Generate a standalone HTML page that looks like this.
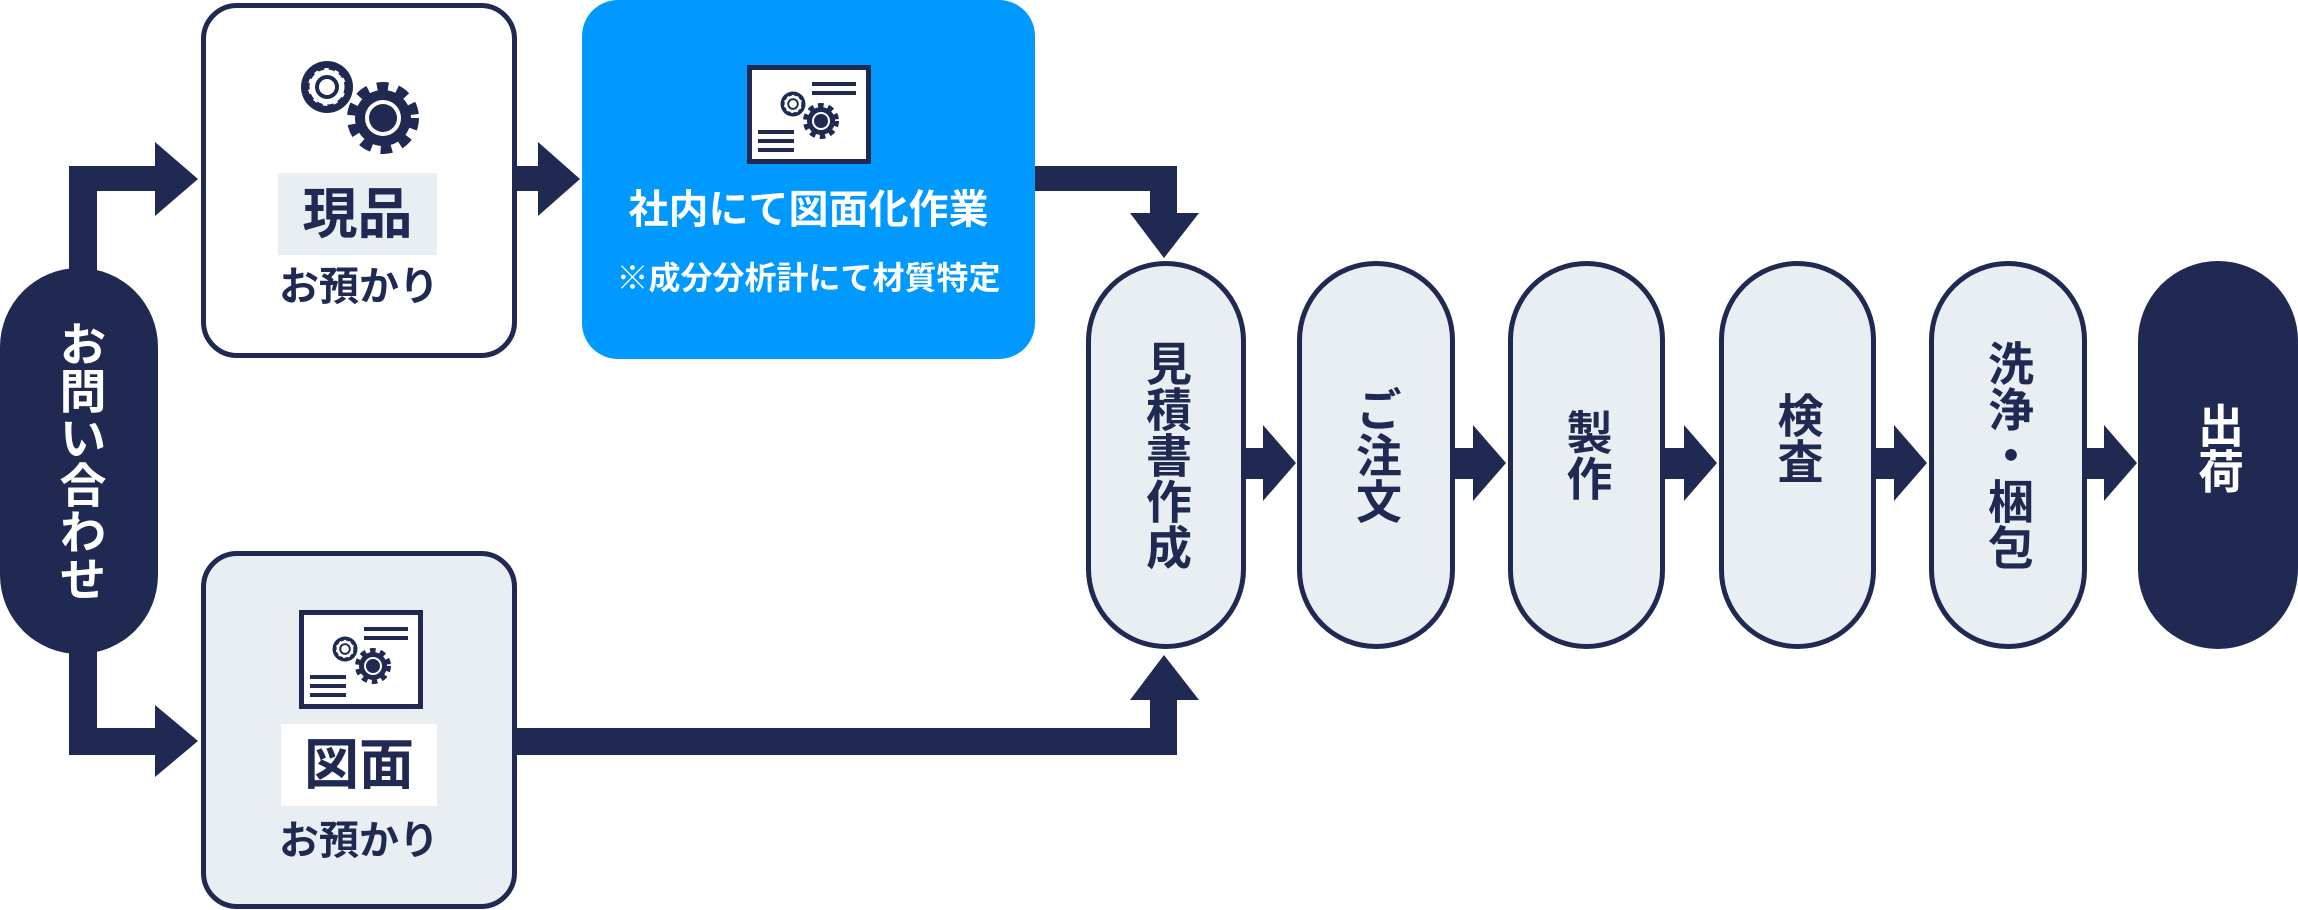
<!DOCTYPE html>
<html><head><meta charset="utf-8"><style>
body{margin:0;width:2298px;height:910px;position:relative;background:#fff;overflow:hidden;font-family:"Liberation Sans","Noto Sans CJK JP",sans-serif;font-weight:bold;color:#1f2951}
.a{position:absolute;box-sizing:border-box}
.box{border:5px solid #1f2951;border-radius:36px}
.pill{border:5px solid #1f2951;border-radius:80px;background:#e8eef1;display:flex;align-items:center;justify-content:center}
.v{writing-mode:vertical-rl;text-orientation:upright;font-size:46px;letter-spacing:0;line-height:1}
.c{text-align:center;white-space:nowrap}
</style></head><body>
<svg class="a" style="left:0;top:0" width="2298" height="910">
<defs>
<g id="gsmall"><circle r="26" fill="#1f2951"/><circle r="19" fill="#fff"/><circle r="20" fill="none" stroke="#1f2951" stroke-width="5" stroke-dasharray="7 5"/><circle r="12" fill="#1f2951"/><circle r="8" fill="#fff"/></g>
<g id="gbig"><circle r="28" fill="#1f2951"/><circle r="31" fill="none" stroke="#1f2951" stroke-width="10" stroke-dasharray="11 9"/><circle r="18" fill="#fff"/><circle r="14" fill="#1f2951"/></g>
<g id="doc"><rect x="2.5" y="2.5" width="119" height="94" fill="#fff" stroke="#1f2951" stroke-width="5"/>
<rect x="65" y="17" width="44" height="4" fill="#1f2951"/><rect x="65" y="26" width="44" height="4" fill="#1f2951"/>
<rect x="11" y="65" width="36" height="4" fill="#1f2951"/><rect x="11" y="74" width="36" height="4" fill="#1f2951"/><rect x="11" y="83" width="36" height="4" fill="#1f2951"/>
<use href="#gsmall" transform="translate(46 39) scale(0.48)"/><use href="#gbig" transform="translate(74 56) scale(0.5)"/></g>
</defs>
<g fill="#1f2951">
<rect x="69" y="166" width="28" height="104"/><rect x="69" y="166" width="88" height="25"/><polygon points="155,142 198,179 155,216"/>
<rect x="69" y="652" width="28" height="103"/><rect x="69" y="728" width="88" height="27"/><polygon points="155,705 198,741 155,777"/>
<rect x="515" y="166" width="25" height="25"/><polygon points="538,142 580,179 538,216"/>
<rect x="1033" y="166" width="144" height="25"/><rect x="1150" y="166" width="27" height="50"/><polygon points="1130,213 1199,213 1164,258"/>
<rect x="515" y="728" width="662" height="27"/><rect x="1150" y="698" width="27" height="57"/><polygon points="1130,700 1199,700 1164,655"/>
<rect x="1244" y="448" width="22" height="31"/><polygon points="1263,425 1296,463 1263,501"/>
<rect x="1453" y="448" width="22" height="31"/><polygon points="1473,425 1506,463 1473,501"/>
<rect x="1663" y="448" width="22" height="31"/><polygon points="1684,425 1717,463 1684,501"/>
<rect x="1874" y="448" width="22" height="31"/><polygon points="1894,425 1927,463 1894,501"/>
<rect x="2085" y="448" width="22" height="31"/><polygon points="2104,425 2137,463 2104,501"/>
</g>
</svg>
<div class="a" style="left:0;top:268px;width:158px;height:386px;background:#1f2951;border-radius:79px;display:flex;align-items:center;justify-content:center;color:#fff"><span class="v" style="font-size:47px">お問い合わせ</span></div>

<div class="a box" style="left:201px;top:3px;width:316px;height:355px;background:#fff"></div>
<svg class="a" style="left:280px;top:50px" width="150" height="110"><use href="#gsmall" transform="translate(47 37)"/><use href="#gbig" transform="translate(103 68)"/></svg>
<div class="a c" style="left:278px;top:173px;width:159px;height:82px;background:#e8eef1;font-size:55px;line-height:82px">現品</div>
<div class="a c" style="left:201px;top:262px;width:316px;font-size:40px;line-height:50px">お預かり</div>

<div class="a" style="left:582px;top:0;width:453px;height:359px;background:#0099ff;border-radius:36px"></div>
<svg class="a" style="left:747px;top:65px" width="124" height="99"><use href="#doc"/></svg>
<div class="a c" style="left:582px;top:185px;width:453px;font-size:40px;line-height:50px;color:#fff">社内にて図面化作業</div>
<div class="a c" style="left:582px;top:258px;width:453px;font-size:32px;line-height:40px;color:#fff">※成分分析計にて材質特定</div>

<div class="a box" style="left:201px;top:551px;width:316px;height:358px;background:#e8eef1"></div>
<svg class="a" style="left:299px;top:610px" width="124" height="99"><use href="#doc"/></svg>
<div class="a c" style="left:281px;top:724px;width:156px;height:82px;background:#fff;font-size:55px;line-height:82px">図面</div>
<div class="a c" style="left:201px;top:816px;width:316px;font-size:40px;line-height:50px">お預かり</div>

<div class="a pill" style="left:1086px;top:261px;width:160px;height:388px"><span class="v">見積書作成</span></div>
<div class="a pill" style="left:1297px;top:261px;width:158px;height:388px"><span class="v">ご注文</span></div>
<div class="a pill" style="left:1508px;top:261px;width:157px;height:388px"><span class="v">製作</span></div>
<div class="a pill" style="left:1719px;top:261px;width:157px;height:388px"><span class="v" style="margin-top:-34px">検査</span></div>
<div class="a pill" style="left:1929px;top:261px;width:158px;height:388px"><span class="v">洗浄・梱包</span></div>
<div class="a pill" style="left:2138px;top:261px;width:160px;height:388px;background:#1f2951;color:#fff"><span class="v" style="margin-top:-14px">出荷</span></div>
</body></html>
